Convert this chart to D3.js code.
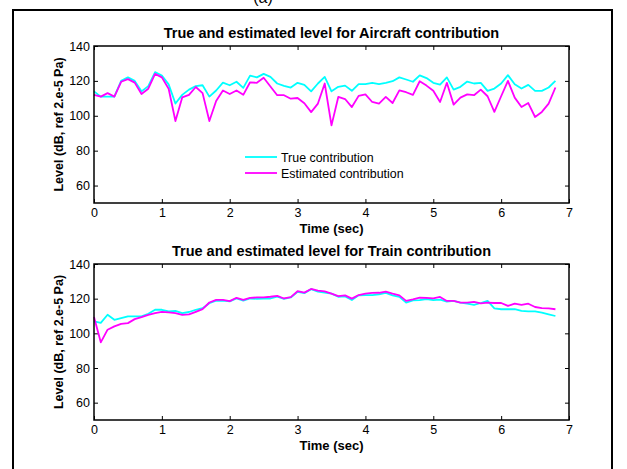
<!DOCTYPE html>
<html>
<head>
<meta charset="utf-8">
<script src="https://cdn.jsdelivr.net/npm/d3@7"></script>
<style>
  body { margin: 0; background: white; }
  text { font-family: Arial, "Liberation Sans", sans-serif; }
</style>
</head>
<body>
<script>
// time axis, 0.1 s steps
const time = [0,0.1,0.2,0.3,0.4,0.5,0.6,0.7,0.8,0.9,1,1.1,1.2,1.3,1.4,1.5,1.6,1.7,1.8,1.9,2,2.1,2.2,2.3,2.4,2.5,2.6,2.7,2.8,2.9,3,3.1,3.2,3.3,3.4,3.5,3.6,3.7,3.8,3.9,4,4.1,4.2,4.3,4.4,4.5,4.6,4.7,4.8,4.9,5,5.1,5.2,5.3,5.4,5.5,5.6,5.7,5.8,5.9,6,6.1,6.2,6.3,6.4,6.5,6.6,6.7,6.8];

const aircraftTrue = [114,111,111,111,120,122,120,114,117,125,123,118,107,112,115,117,117.5,111,114.5,119,117.5,119.5,116,123,122,124,122.3,118.5,117.2,116.2,118.9,117.7,114,118.5,122.3,114,116.6,117.3,114.3,118.1,118.1,118.9,118.1,118.9,119.8,122,120.8,119.5,123.2,121.6,118.9,117.9,122,115,116.6,119.6,118.5,118.9,114.3,115.6,118.5,123.3,118.1,115.6,117.7,114.3,114.3,116.2,120];
const aircraftEst = [112,111,113,111,119.5,121,119,112.5,115.5,124,122,115.5,97,110.5,112,116.5,113,97,108.5,114.5,112.5,114.5,112,119.2,118.9,121.8,116.8,111.8,111.8,109.8,110.2,107.2,102.1,107,118.5,94.5,110.8,109.6,105,111.4,112.3,107.9,107,110.8,107.3,114.6,113.5,112,119.8,117.3,114.3,107.9,118.9,106.4,110.4,112.3,111.8,115,111.2,102.2,111.2,120,110.4,105,107.3,99.3,102.2,107,116.2];

const trainTrue = [106.9,106,110.7,107.8,108.8,109.8,109.8,109.8,111.3,113.6,113.6,112.6,113,111.7,112.3,113.6,114.5,117.4,118.8,118.9,118.4,120.1,118.9,120.1,119.9,120.1,120.1,121.2,119.9,120.7,123.9,123.2,125.5,124.1,123.5,122.9,121.1,121.3,119.2,121.9,122.1,122.1,122.5,123.3,121.9,121,117.7,119,119.2,119.8,119.2,119.4,118.3,118.7,117.7,117.1,116.4,117.5,118.7,114.4,113.9,113.9,113.9,112.9,112.7,112.7,112,111,110];
const trainEst = [109.4,94.8,102.1,104,105.5,105.9,108.2,109.4,110.7,111.7,112.4,112.1,111.7,110.7,110.9,112.4,114,117.8,119.3,119.3,118.6,120.5,119.3,120.5,120.7,120.7,121.1,121.6,120.1,120.9,124.3,123.5,125.6,124.7,124.2,122.9,121.5,121.9,120,122.1,122.9,123.3,123.4,124,122.9,121.9,118.7,119.6,120.6,120.4,120.2,121,118.7,118.7,117.7,117.7,118.1,117.3,117.7,117.5,117.5,115.8,117.1,116.4,117.1,115.2,114.6,114.4,113.9];

const xTicks = [0,1,2,3,4,5,6,7];
const yTicks = [60,80,100,120,140];
const xRange = [0, 7];
const yRange = [50, 140];

const titles = ["True and estimated level for Aircraft contribution", "True and estimated level for Train contribution"];
const legendLabels = ["True contribution", "Estimated contribution"];
const colors = ["#00ffff", "#ff00ff"];

const W = 627, H = 469;

const svg = d3.select("body")
  .append("svg")
  .attr("width", W)
  .attr("height", H);

// outer frame and cut-off caption
svg.append("rect")
  .attr("x", 13).attr("y", 10)
  .attr("width", 599).attr("height", 480)
  .attr("fill", "none")
  .attr("stroke", "black")
  .attr("stroke-width", 2);

svg.append("text")
  .attr("x", 263).attr("y", 3)
  .attr("text-anchor", "middle")
  .style("font-size", "16px")
  .text("(a)");

function drawPanel(box, title, series, showLegend) {
  const w = box.right - box.left;
  const h = box.bottom - box.top;
  const g = svg.append("g").attr("transform", `translate(${box.left},${box.top})`);

  const xScale = d3.scaleLinear(xRange, [0, w]);
  const yScale = d3.scaleLinear(yRange, [h, 0]);

  // ticks point inward on all four sides
  const bottom = g.append("g")
    .attr("transform", `translate(0,${h})`)
    .call(d3.axisBottom(xScale).tickValues(xTicks).tickSize(-4).tickPadding(5).tickFormat(d3.format("d")));
  const left = g.append("g")
    .call(d3.axisLeft(yScale).tickValues(yTicks).tickSize(-4).tickPadding(4).tickFormat(d3.format("d")));
  const top = g.append("g")
    .call(d3.axisTop(xScale).tickValues(xTicks).tickSize(-4).tickFormat(""));
  const right = g.append("g")
    .attr("transform", `translate(${w},0)`)
    .call(d3.axisRight(yScale).tickValues(yTicks).tickSize(-4).tickFormat(""));

  [bottom, left, top, right].forEach(a => {
    a.select(".domain").remove();
    a.selectAll("line").attr("stroke", "black").attr("stroke-width", 1);
    a.selectAll("text")
      .style("font-family", "Arial, 'Liberation Sans', sans-serif")
      .style("font-size", "12.5px")
      .attr("fill", "black");
  });

  const line = d3.line()
    .x((d, i) => xScale(time[i]))
    .y(d => yScale(d));

  series.forEach((s, i) => {
    g.append("path")
      .datum(s)
      .attr("fill", "none")
      .attr("stroke", colors[i])
      .attr("stroke-width", 1.8)
      .attr("stroke-linejoin", "round")
      .attr("d", line);
  });

  g.append("rect")
    .attr("width", w).attr("height", h)
    .attr("fill", "none")
    .attr("stroke", "black")
    .attr("stroke-width", 1.5);

  // title
  g.append("text")
    .attr("x", w / 2).attr("y", -8)
    .attr("text-anchor", "middle")
    .style("font-size", "14.5px")
    .style("font-weight", "bold")
    .text(title);

  // axis labels
  g.append("text")
    .attr("x", w / 2).attr("y", h + 30)
    .attr("text-anchor", "middle")
    .style("font-size", "13px")
    .style("font-weight", "bold")
    .text("Time (sec)");

  g.append("text")
    .attr("transform", "rotate(-90)")
    .attr("x", -h / 2).attr("y", -31)
    .attr("text-anchor", "middle")
    .style("font-size", "12.5px")
    .style("font-weight", "bold")
    .text("Level (dB, ref 2.e-5 Pa)");

  if (showLegend) {
    const leg = svg.append("g").attr("transform", "translate(245,157)");
    legendLabels.forEach((lab, i) => {
      leg.append("line")
        .attr("x1", 0).attr("x2", 32)
        .attr("y1", i * 16).attr("y2", i * 16)
        .attr("stroke", colors[i])
        .attr("stroke-width", 1.8);
      leg.append("text")
        .attr("x", 36).attr("y", i * 16 + 4.5)
        .style("font-size", "12.4px")
        .text(lab);
    });
  }
}

drawPanel({left: 94, right: 569, top: 46, bottom: 203}, titles[0], [aircraftTrue, aircraftEst], true);
drawPanel({left: 94, right: 569, top: 264, bottom: 420}, titles[1], [trainTrue, trainEst], false);
</script>
</body>
</html>
